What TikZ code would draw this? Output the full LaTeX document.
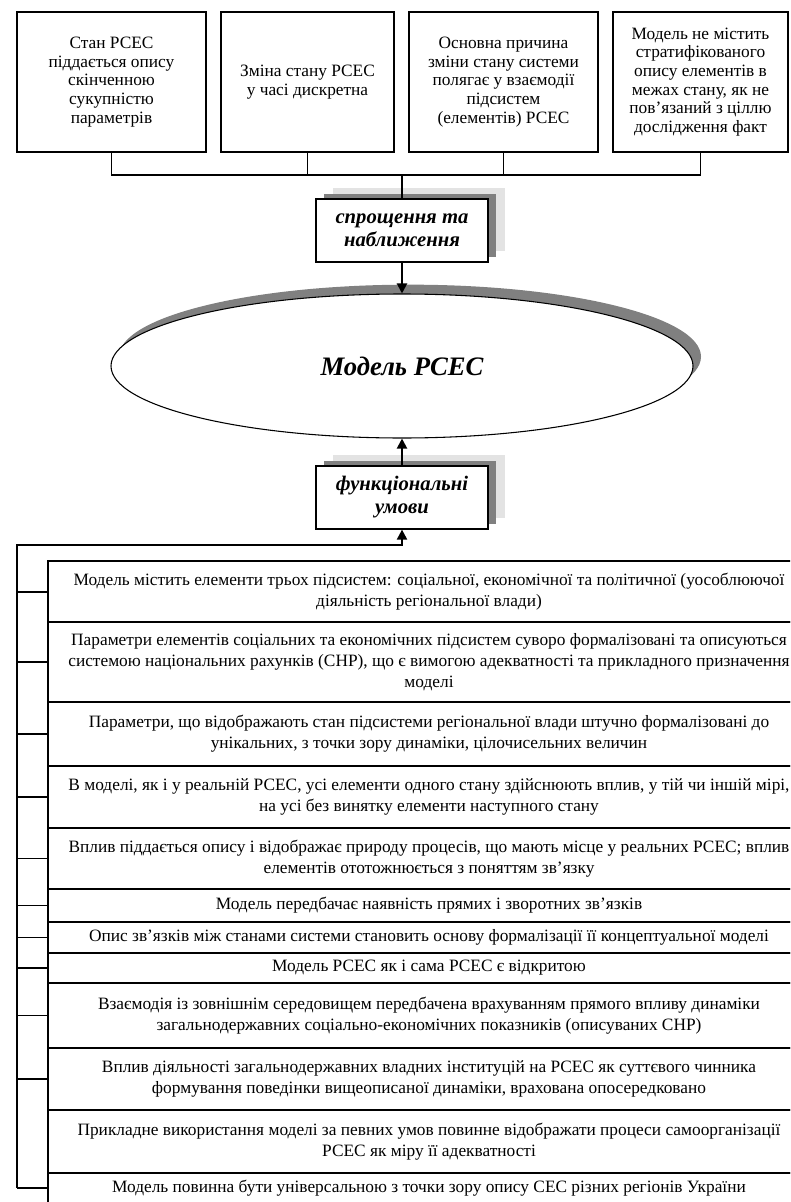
\documentclass[tikz,border=0pt]{standalone}
\usepackage{fontspec}
\setmainfont{Liberation Serif}
\usetikzlibrary{shapes.geometric, arrows.meta, shadows, fit}

\begin{document}
\begin{tikzpicture}[x=0.75pt, y=-0.75pt,
  topbox/.style={draw, line width=1.5pt, inner sep=0pt, align=center,
    minimum height=105pt, font=\fontsize{13}{14}\selectfont},
  tagbox/.style={draw, line width=0.9pt, fill=white, inner sep=0pt, align=center,
    minimum width=129pt, minimum height=47.25pt,
    font=\fontsize{15.5}{17.25}\selectfont\bfseries\itshape,
    general shadow={fill=black!11, draw=none, shadow xshift=12.75pt, shadow yshift=8.25pt},
    general shadow={fill=black!50, draw=none, shadow xshift=6pt, shadow yshift=3.75pt}},
  listbox/.style={draw, line width=1.9pt, inner sep=0pt},
  listtext/.style={inner sep=0pt, align=center, font=\fontsize{13}{15.75}\selectfont},
  thinline/.style={line width=0.8pt},
  conn/.style={line width=1.5pt},
  tick/.style={line width=0.8pt},
  tip/.style={-{Triangle[length=7.5pt,width=7.5pt]}}
]
\useasboundingbox[fill=white] (0,0) rectangle (790,1202);
\clip (0,0) rectangle (790,1202);

% --- four premises at the top
\node[topbox, minimum width=141.75pt] (t1) at (111.5,82)
  {Стан РСЕС\\піддається опису\\скінченною\\сукупністю\\параметрів};
\node[topbox, minimum width=129.75pt] (t2) at (307.5,82)
  {Зміна стану РСЕС\\у часі дискретна};
\node[topbox, minimum width=141.75pt] (t3) at (503.5,82)
  {Основна причина\\зміни стану системи\\полягає у взаємодії\\підсистем\\(елементів) РСЕС};
\node[topbox, minimum width=131.25pt] (t4) at (700.5,82)
  {Модель не містить\\стратифікованого\\опису елементів в\\межах стану, як не\\пов’язаний з ціллю\\дослідження факт};

% --- labelled boxes and the model
\node[tagbox] (s) at (402,230.5) {спрощення та\\наближення};
\node[ellipse, draw, line width=0.8pt, fill=white, inner sep=0pt,
  minimum width=436.5pt, minimum height=108pt,
  general shadow={fill=black!50, draw=none, shadow xshift=6pt, shadow yshift=7pt},
  font=\fontsize{20}{24}\selectfont\bfseries\itshape] (m) at (402,366) {Модель РСЕС};
\node[tagbox] (f) at (402,497.5) {функціональні\\умови};

% --- bus joining the premises
\coordinate (bus) at (402,175);
\draw[thinline] (t1.south) |- (bus) -| (t4.south);
\draw[thinline] (t2.south) -- (t2.south |- bus);
\draw[thinline] (t3.south) -- (t3.south |- bus);
\draw[conn] (bus) -- (s.north);
\draw[conn, tip] (s.south) -- (m.north);
\draw[conn, tip] (f.north) -- (m.south);

% --- list of functional conditions
\coordinate (cx) at (429,0);
\node[listbox, fit={(48,561) (830,622)}] (l1) {};
\node[listbox, fit={(48,622) (830,702)}] (l2) {};
\node[listbox, fit={(48,702) (830,766)}] (l3) {};
\node[listbox, fit={(48,766) (830,828)}] (l4) {};
\node[listbox, fit={(48,828) (830,889)}] (l5) {};
\node[listbox, fit={(48,889) (830,922)}] (l6) {};
\node[listbox, fit={(48,922) (830,953)}] (l7) {};
\node[listbox, fit={(48,953) (830,983)}] (l8) {};
\node[listbox, fit={(48,983) (830,1048)}] (l9) {};
\node[listbox, fit={(48,1048) (830,1110)}] (l10) {};
\node[listbox, fit={(48,1110) (830,1173)}] (l11) {};
\node[listbox, fit={(48,1173) (830,1203)}] (l12) {};

\node[listtext] (x1) at (l1.center -| cx)
  {Модель містить елементи трьох підсистем: соціальної, економічної та політичної (уособлюючої\\діяльність регіональної влади)};
\node[listtext] (x2) at (l2.center -| cx)
  {Параметри елементів соціальних та економічних підсистем суворо формалізовані та описуються\\системою національних рахунків (СНР), що є вимогою адекватності та прикладного призначення\\моделі};
\node[listtext] (x3) at (l3.center -| cx)
  {Параметри, що відображають стан підсистеми регіональної влади штучно формалізовані до\\унікальних, з точки зору динаміки, цілочисельних величин};
\node[listtext] (x4) at (l4.center -| cx)
  {В моделі, як і у реальній РСЕС, усі елементи одного стану здійснюють вплив, у тій чи іншій мірі,\\на усі без винятку елементи наступного стану};
\node[listtext] (x5) at (l5.center -| cx)
  {Вплив піддається опису і відображає природу процесів, що мають місце у реальних РСЕС; вплив\\елементів ототожнюється з поняттям зв’язку};
\node[listtext] (x6) at (l6.center -| cx)
  {Модель передбачає наявність прямих і зворотних зв’язків};
\node[listtext] (x7) at (l7.center -| cx)
  {Опис зв’язків між станами системи становить основу формалізації її концептуальної моделі};
\node[listtext] (x8) at (l8.center -| cx)
  {Модель РСЕС як і сама РСЕС є відкритою};
\node[listtext] (x9) at (l9.center -| cx)
  {Взаємодія із зовнішнім середовищем передбачена врахуванням прямого впливу динаміки\\загальнодержавних соціально-економічних показників (описуваних СНР)};
\node[listtext] (x10) at (l10.center -| cx)
  {Вплив діяльності загальнодержавних владних інституцій на РСЕС як суттєвого чинника\\формування поведінки вищеописаної динаміки, врахована опосередковано};
\node[listtext] (x11) at (l11.center -| cx)
  {Прикладне використання моделі за певних умов повинне відображати процеси самоорганізації\\РСЕС як міру її адекватності};
\node[listtext] (x12) at (l12.center -| cx)
  {Модель повинна бути універсальною з точки зору опису СЕС різних регіонів України};

% --- bracket gathering the list into the functional conditions
\coordinate (brk) at (17,545);
\draw[tick] (l1.west -| brk) -- (l12.west -| brk);
\foreach \k in {2,...,10,12}
  \draw[tick] (l\k.west) -- (l\k.west -| brk);
\draw[conn, tip] (l1.west) -| (brk) -| (f.south);
\end{tikzpicture}
\end{document}
